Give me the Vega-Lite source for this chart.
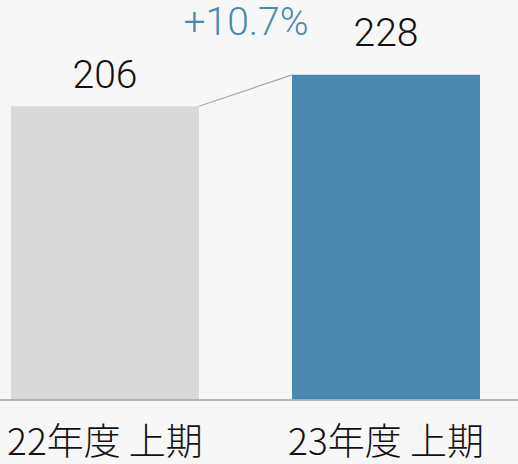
{
  "$schema": "https://vega.github.io/schema/vega-lite/v6.json",
  "width": 518,
  "height": 400,
  "autosize": "none",
  "padding": {"left": 0, "right": 0, "top": 0, "bottom": 64},
  "background": "#f7f7f7",
  "config": {"view": {"stroke": null}, "font": "Noto Sans CJK JP"},
  "data": {"values": [
    {"period": "22年度 上期", "value": 206},
    {"period": "23年度 上期", "value": 228}
  ]},
  "encoding": {
    "x": {"field": "period", "type": "nominal", "sort": null,
      "scale": {"range": [11, 480], "paddingInner": 0.331, "paddingOuter": 0},
      "axis": {"title": null, "ticks": false, "domain": false, "labelAngle": 0, "labelFontSize": 37, "labelColor": "#111111", "labelPadding": 25, "labelLimit": 0, "labelFont": "Noto Sans CJK JP", "labelFontWeight": 300}}
  },
  "layer": [
    {
      "mark": {"type": "bar"},
      "encoding": {
        "y": {"field": "value", "type": "quantitative", "scale": {"domain": [0, 280.5], "nice": false, "zero": true}, "axis": null},
        "color": {"field": "period", "type": "nominal", "scale": {"range": ["#d9d9d9", "#4b88b0"]}, "legend": null}
      }
    },
    {
      "mark": {"type": "rule", "color": "#b0b0b0", "strokeWidth": 1.5},
      "encoding": {"x": null, "y": {"datum": 0, "type": "quantitative"}}
    },
    {
      "transform": [{"pivot": "period", "value": "value"}],
      "mark": {"type": "rule", "color": "#a8a8a8", "strokeWidth": 1.2},
      "encoding": {
        "x": {"datum": "22年度 上期", "bandPosition": 1},
        "x2": {"datum": "23年度 上期", "bandPosition": 0},
        "y": {"field": "22年度 上期", "type": "quantitative"},
        "y2": {"field": "23年度 上期"}
      }
    },
    {
      "transform": [{"filter": "datum.period === '22年度 上期'"}],
      "mark": {"type": "text", "fontSize": 39, "baseline": "alphabetic", "dy": -18, "color": "#111111", "font": "Roboto", "fontWeight": 300},
      "encoding": {
        "y": {"field": "value", "type": "quantitative"},
        "text": {"field": "value", "type": "quantitative"}
      }
    },
    {
      "transform": [{"filter": "datum.period === '23年度 上期'"}],
      "mark": {"type": "text", "fontSize": 39, "baseline": "alphabetic", "dy": -29, "color": "#111111", "font": "Roboto", "fontWeight": 300},
      "encoding": {
        "y": {"field": "value", "type": "quantitative"},
        "text": {"field": "value", "type": "quantitative"}
      }
    },
    {
      "data": {"values": [{"label": "+10.7%"}]},
      "mark": {"type": "text", "fontSize": 39, "baseline": "alphabetic", "dx": -46, "color": "#4b88b0", "font": "Roboto", "fontWeight": 300},
      "encoding": {
        "x": {"datum": "23年度 上期", "bandPosition": 0},
        "y": {"datum": 256, "type": "quantitative"},
        "text": {"field": "label", "type": "nominal"}
      }
    }
  ]
}
